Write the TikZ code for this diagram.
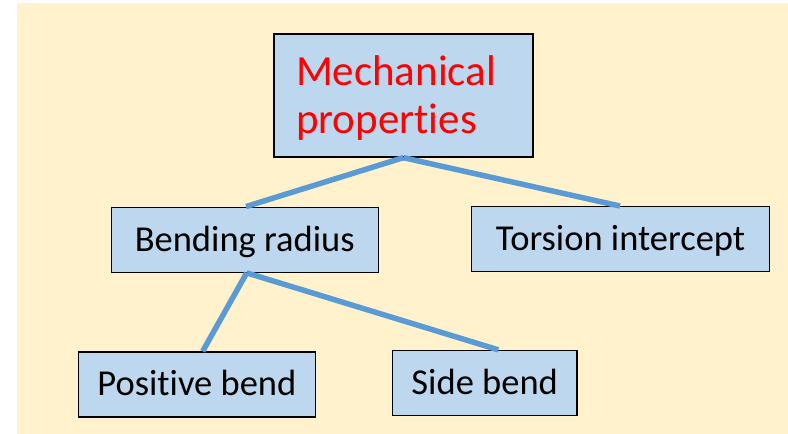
\documentclass[tikz,border=0pt]{standalone}
\usepackage{fontspec}
\setmainfont[Ligatures={NoCommon,NoContextual},Contextuals=NoAlternate]{Carlito}
\definecolor{paper}{HTML}{FFF2CC}
\definecolor{boxfill}{HTML}{BDD7EE}
\definecolor{linkblue}{HTML}{5B9BD5}
\begin{document}
\begin{tikzpicture}[x=1pt,y=-1pt,
  catbox/.style={draw=black, line width=1.3pt, fill=boxfill, rectangle, inner sep=0pt,
    font=\fontsize{36.5}{40}\selectfont, text height=23pt, text depth=0pt},
  link/.style={draw=linkblue, line width=5.5pt}]
\useasboundingbox (0,0) rectangle (788,434);
\fill[paper] (17,3) rectangle (788,434);

% root category
\node[catbox, minimum width=259pt, minimum height=123pt, text width=215pt,
  align=left, inner xsep=22pt, text height=28pt, text depth=48pt, text=red,
  font=\fontsize{43}{48}\selectfont] (root) at (403.5,95.5) {Mechanical\\properties};

% second level
\node[catbox, minimum width=267pt, minimum height=65pt] (bend) at (244.7,239.7) {Bending radius};
\node[catbox, minimum width=297.5pt, minimum height=65pt] (tors) at (620.5,239.2) {Torsion intercept};

% third level
\node[catbox, minimum width=237.5pt, minimum height=65pt] (pos) at (196.9,384.4) {Positive bend};
\node[catbox, minimum width=184.7pt, minimum height=65pt] (side) at (484.7,383) {Side bend};

% connectors
\coordinate (rootb) at ([xshift=-0.2pt]root.south);
\draw[link] (rootb) -- ([xshift=1.3pt]bend.north);
\draw[link] (rootb) -- ([xshift=-0.5pt]tors.north);
\draw[link] ([xshift=2pt]bend.south) -- ([xshift=5.8pt]pos.north);
\draw[link] ([xshift=2pt]bend.south) -- ([xshift=13.6pt]side.north);
\end{tikzpicture}
\end{document}
